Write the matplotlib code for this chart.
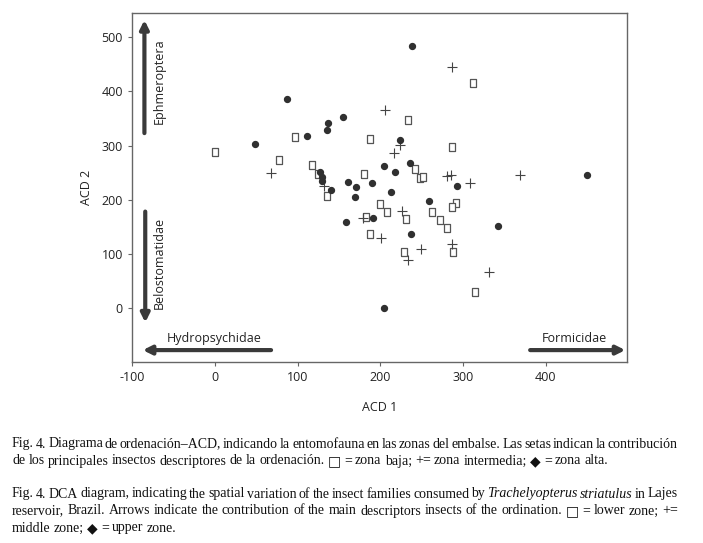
import matplotlib
matplotlib.use('Agg')
import matplotlib.pyplot as plt

plt.rcParams['axes.unicode_minus'] = False

# zona baja (cuadrados)
baja_x = [0, 97, 78, 312, 234, 188, 287, 117, 125, 136, 180, 183, 199, 208, 231, 187,
          228, 242, 248, 252, 292, 286, 262, 272, 281, 288, 314]
baja_y = [288, 316, 273, 416, 347, 312, 297, 264, 248, 207, 248, 168, 192, 178, 165, 137,
          103, 256, 240, 242, 194, 186, 178, 163, 148, 104, 30]
# zona intermedia (+)
media_x = [68, 287, 206, 224, 216, 132, 226, 179, 201, 233, 249, 286, 331, 281, 285, 308, 369]
media_y = [249, 446, 365, 301, 286, 225, 179, 167, 129, 88, 108, 119, 67, 243, 246, 231, 245]
# zona alta (rombos)
alta_x = [238, 87, 48, 155, 137, 136, 111, 224, 127, 129, 130, 141, 205, 218, 236, 161,
          171, 190, 170, 213, 158, 191, 237, 204, 259, 293, 342, 450]
alta_y = [484, 386, 303, 352, 341, 328, 318, 311, 252, 242, 234, 218, 263, 252, 267, 233,
          224, 231, 205, 214, 159, 167, 137, 0, 198, 226, 152, 245]

# flechas de los descriptores: (nombre, inicio, punta, posicion texto, rotacion)
flechas = [
    ('Ephmeroptera', (-85, 323), (-85, 532), (-67, 419), 90),
    ('Belostomatidae', (-84, 178), (-84, -27), (-67, 83), 90),
    ('Hydropsychidae', (68, -78), (-87, -78), (-1, -57), 0),
    ('Formicidae', (381, -78), (496, -78), (434, -57), 0),
]

fig = plt.figure(figsize=(7.03, 5.43), dpi=100)
ax = fig.add_axes([132 / 703, 1 - 362 / 543, 495 / 703, 349 / 543])

sq = [(-0.35, -0.5), (0.35, -0.5), (0.35, 0.5), (-0.35, 0.5), (-0.35, -0.5)]
ax.scatter(baja_x, baja_y, marker=sq, s=32, facecolors='white', edgecolors='#555555',
           linewidths=0.9, zorder=3)
ax.scatter(media_x, media_y, marker='+', s=45, color='#444444', linewidths=0.8, zorder=3)
ax.scatter(alta_x, alta_y, marker='o', s=18, color='#303030', zorder=4)

sans = ['Open Sans', 'DejaVu Sans']
for nombre, ini, fin, pos, rot in flechas:
    ax.annotate('', xy=fin, xytext=ini,
                arrowprops=dict(arrowstyle='-|>,head_length=0.5,head_width=0.25',
                                color='#3a3a3a', lw=3, shrinkA=0, shrinkB=0))
    ax.text(pos[0], pos[1], nombre, rotation=rot, ha='center', va='center',
            fontsize=9, family=sans, color='#222222')

ax.set_xlim(-100, 498)
ax.set_ylim(-100, 545)
ax.set_xticks([-100, 0, 100, 200, 300, 400])
ax.set_yticks([0, 100, 200, 300, 400, 500])
for s in ax.spines.values():
    s.set_color('#666666')
    s.set_linewidth(1.0)
ax.tick_params(length=3, color='#666666', labelsize=9, labelcolor='#222222')
for lab in ax.get_xticklabels() + ax.get_yticklabels():
    lab.set_family(sans)
ax.set_xlabel('ACD 1', fontsize=9, family=sans, labelpad=12, color='#222222')
ax.set_ylabel('ACD 2', fontsize=9, family=sans, labelpad=6, color='#222222')

# pie de figura
serif = ['Liberation Serif', 'DejaVu Serif']
renderer = fig.canvas.get_renderer()


def linea(piezas, y, x0=12, x1=678, justificar=True, fs=10):
    palabras = []
    for texto, estilo in piezas:
        for w in texto.split(' '):
            if w:
                palabras.append((w, estilo))
    objs = []
    for w, estilo in palabras:
        fam = ['DejaVu Sans'] if w in ('□', '◆') else serif
        t = fig.text(0, 1 - y / 543, w, fontsize=fs, family=fam, style=estilo,
                     va='center', ha='left', color='#111111')
        objs.append(t)
    anchos = [o.get_window_extent(renderer).width for o in objs]
    if justificar and len(objs) > 1:
        hueco = (x1 - x0 - sum(anchos)) / (len(objs) - 1)
    else:
        hueco = 3.2
    x = x0
    for o, a in zip(objs, anchos):
        o.set_x(x / 703)
        x += a + hueco


linea([('Fig. 4. Diagrama de ordenación–ACD, indicando la entomofauna en las zonas del embalse. '
        'Las setas indican la contribución', 'normal')], 444)
linea([('de los principales insectos descriptores de la ordenación. □ = zona baja; += zona intermedia; '
        '◆ = zona alta.', 'normal')], 461, justificar=False)
linea([('Fig. 4. DCA diagram, indicating the spatial variation of the insect families consumed by', 'normal'),
       ('Trachelyopterus striatulus', 'italic'), ('in Lajes', 'normal')], 494)
linea([('reservoir, Brazil. Arrows indicate the contribution of the main descriptors insects of the '
        'ordination. □ = lower zone; +=', 'normal')], 511)
linea([('middle zone; ◆ = upper zone.', 'normal')], 528, justificar=False)

fig.savefig('out.png', dpi=100)
